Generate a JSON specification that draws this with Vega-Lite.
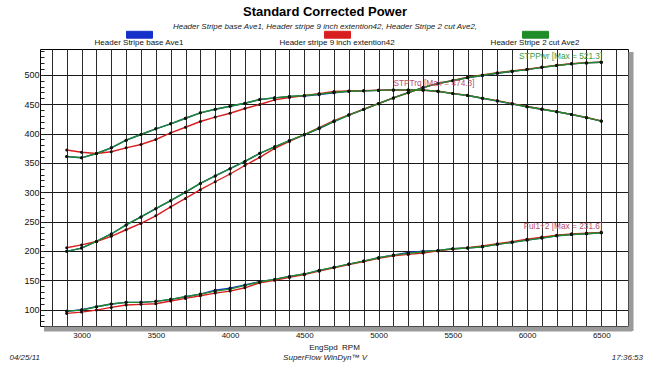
{
  "$schema": "https://vega.github.io/schema/vega-lite/v6.json",
  "width": 588,
  "height": 277,
  "autosize": {"type": "none"},
  "padding": {"left": 40, "top": 49, "right": 22, "bottom": 42},
  "background": "white",
  "config": {
    "font": "Liberation Sans",
    "view": {"stroke": "#000", "strokeWidth": 1}
  },
  "title": {
    "text": "Standard Corrected Power",
    "subtitle": "Header Stripe base Ave1, Header stripe 9 inch extention42, Header Stripe 2 cut Ave2,",
    "fontSize": 13,
    "fontWeight": "bold",
    "color": "#000",
    "subtitleFontSize": 8,
    "subtitleFontStyle": "italic",
    "subtitleColor": "#222",
    "subtitlePadding": 4,
    "anchor": "middle",
    "dx": -9,
    "offset": -2
  },
  "datasets": {
    "runs": [
      {"run": "Header Stripe base Ave1", "rpm": 2900, "trq": 360.8, "pwr": 199.2, "ful": 96.9},
      {"run": "Header Stripe base Ave1", "rpm": 3000, "trq": 358.6, "pwr": 204.8, "ful": 99.8},
      {"run": "Header Stripe base Ave1", "rpm": 3100, "trq": 366.0, "pwr": 216.0, "ful": 104.8},
      {"run": "Header Stripe base Ave1", "rpm": 3200, "trq": 375.6, "pwr": 228.8, "ful": 109.4},
      {"run": "Header Stripe base Ave1", "rpm": 3300, "trq": 388.6, "pwr": 244.2, "ful": 112.3},
      {"run": "Header Stripe base Ave1", "rpm": 3400, "trq": 398.3, "pwr": 257.8, "ful": 112.3},
      {"run": "Header Stripe base Ave1", "rpm": 3500, "trq": 408.0, "pwr": 271.9, "ful": 114.0},
      {"run": "Header Stripe base Ave1", "rpm": 3600, "trq": 416.5, "pwr": 285.5, "ful": 117.4},
      {"run": "Header Stripe base Ave1", "rpm": 3700, "trq": 426.0, "pwr": 300.1, "ful": 121.8},
      {"run": "Header Stripe base Ave1", "rpm": 3800, "trq": 435.2, "pwr": 314.9, "ful": 126.4},
      {"run": "Header Stripe base Ave1", "rpm": 3900, "trq": 441.4, "pwr": 327.8, "ful": 133.0},
      {"run": "Header Stripe base Ave1", "rpm": 4000, "trq": 446.5, "pwr": 340.1, "ful": 136.6},
      {"run": "Header Stripe base Ave1", "rpm": 4100, "trq": 451.6, "pwr": 352.5, "ful": 142.0},
      {"run": "Header Stripe base Ave1", "rpm": 4200, "trq": 458.0, "pwr": 366.3, "ful": 147.4},
      {"run": "Header Stripe base Ave1", "rpm": 4300, "trq": 460.8, "pwr": 377.3, "ful": 151.4},
      {"run": "Header Stripe base Ave1", "rpm": 4400, "trq": 463.0, "pwr": 387.9, "ful": 156.5},
      {"run": "Header Stripe base Ave1", "rpm": 4500, "trq": 464.0, "pwr": 397.6, "ful": 160.5},
      {"run": "Header Stripe base Ave1", "rpm": 4600, "trq": 466.2, "pwr": 408.3, "ful": 166.8},
      {"run": "Header Stripe base Ave1", "rpm": 4700, "trq": 469.4, "pwr": 420.1, "ful": 171.9},
      {"run": "Header Stripe base Ave1", "rpm": 4800, "trq": 472.0, "pwr": 431.4, "ful": 177.5},
      {"run": "Header Stripe base Ave1", "rpm": 4900, "trq": 472.7, "pwr": 441.0, "ful": 182.6},
      {"run": "Header Stripe base Ave1", "rpm": 5000, "trq": 473.5, "pwr": 450.8, "ful": 188.3},
      {"run": "Header Stripe base Ave1", "rpm": 5100, "trq": 474.3, "pwr": 460.6, "ful": 192.8},
      {"run": "Header Stripe base Ave1", "rpm": 5200, "trq": 474.3, "pwr": 469.6, "ful": 197.4},
      {"run": "Header Stripe base Ave1", "rpm": 5300, "trq": 474.0, "pwr": 478.3, "ful": 199.5},
      {"run": "Header Stripe base Ave1", "rpm": 5400, "trq": 472.0, "pwr": 485.3, "ful": 200.8},
      {"run": "Header Stripe base Ave1", "rpm": 5500, "trq": 468.0, "pwr": 490.1, "ful": 203.6},
      {"run": "Header Stripe base Ave1", "rpm": 5600, "trq": 464.7, "pwr": 495.0, "ful": 204.8},
      {"run": "Header Stripe base Ave1", "rpm": 5700, "trq": 460.0, "pwr": 498.7, "ful": 207.0},
      {"run": "Header Stripe base Ave1", "rpm": 5800, "trq": 455.2, "pwr": 502.7, "ful": 211.1},
      {"run": "Header Stripe base Ave1", "rpm": 5900, "trq": 450.2, "pwr": 505.8, "ful": 214.5},
      {"run": "Header Stripe base Ave1", "rpm": 6000, "trq": 445.5, "pwr": 508.9, "ful": 218.4},
      {"run": "Header Stripe base Ave1", "rpm": 6100, "trq": 441.4, "pwr": 512.7, "ful": 221.8},
      {"run": "Header Stripe base Ave1", "rpm": 6200, "trq": 437.0, "pwr": 515.9, "ful": 225.8},
      {"run": "Header Stripe base Ave1", "rpm": 6300, "trq": 432.4, "pwr": 518.7, "ful": 228.0},
      {"run": "Header Stripe base Ave1", "rpm": 6400, "trq": 427.0, "pwr": 520.3, "ful": 229.2},
      {"run": "Header Stripe base Ave1", "rpm": 6500, "trq": 421.2, "pwr": 521.3, "ful": 230.8},

      {"run": "Header stripe 9 inch extention42", "rpm": 2900, "trq": 372.0, "pwr": 205.4, "ful": 93.5},
      {"run": "Header stripe 9 inch extention42", "rpm": 3000, "trq": 368.0, "pwr": 210.2, "ful": 95.7},
      {"run": "Header stripe 9 inch extention42", "rpm": 3100, "trq": 366.0, "pwr": 216.0, "ful": 99.1},
      {"run": "Header stripe 9 inch extention42", "rpm": 3200, "trq": 369.0, "pwr": 224.8, "ful": 103.7},
      {"run": "Header stripe 9 inch extention42", "rpm": 3300, "trq": 375.6, "pwr": 236.0, "ful": 107.7},
      {"run": "Header stripe 9 inch extention42", "rpm": 3400, "trq": 381.3, "pwr": 246.8, "ful": 108.9},
      {"run": "Header stripe 9 inch extention42", "rpm": 3500, "trq": 389.8, "pwr": 259.8, "ful": 109.9},
      {"run": "Header stripe 9 inch extention42", "rpm": 3600, "trq": 401.0, "pwr": 274.9, "ful": 114.5},
      {"run": "Header stripe 9 inch extention42", "rpm": 3700, "trq": 410.7, "pwr": 289.3, "ful": 119.0},
      {"run": "Header stripe 9 inch extention42", "rpm": 3800, "trq": 420.4, "pwr": 304.2, "ful": 123.5},
      {"run": "Header stripe 9 inch extention42", "rpm": 3900, "trq": 428.0, "pwr": 317.8, "ful": 128.1},
      {"run": "Header stripe 9 inch extention42", "rpm": 4000, "trq": 434.6, "pwr": 331.0, "ful": 131.5},
      {"run": "Header stripe 9 inch extention42", "rpm": 4100, "trq": 442.6, "pwr": 345.5, "ful": 137.1},
      {"run": "Header stripe 9 inch extention42", "rpm": 4200, "trq": 449.4, "pwr": 359.4, "ful": 145.7},
      {"run": "Header stripe 9 inch extention42", "rpm": 4300, "trq": 457.4, "pwr": 374.5, "ful": 150.0},
      {"run": "Header stripe 9 inch extention42", "rpm": 4400, "trq": 461.3, "pwr": 386.5, "ful": 154.8},
      {"run": "Header stripe 9 inch extention42", "rpm": 4500, "trq": 464.7, "pwr": 398.2, "ful": 159.5},
      {"run": "Header stripe 9 inch extention42", "rpm": 4600, "trq": 468.0, "pwr": 409.9, "ful": 165.5},
      {"run": "Header stripe 9 inch extention42", "rpm": 4700, "trq": 471.5, "pwr": 421.9, "ful": 171.2},
      {"run": "Header stripe 9 inch extention42", "rpm": 4800, "trq": 472.5, "pwr": 431.8, "ful": 176.8},
      {"run": "Header stripe 9 inch extention42", "rpm": 4900, "trq": 473.0, "pwr": 441.3, "ful": 182.0},
      {"run": "Header stripe 9 inch extention42", "rpm": 5000, "trq": 473.8, "pwr": 451.1, "ful": 187.5},
      {"run": "Header stripe 9 inch extention42", "rpm": 5100, "trq": 474.3, "pwr": 460.6, "ful": 191.5},
      {"run": "Header stripe 9 inch extention42", "rpm": 5200, "trq": 474.2, "pwr": 469.5, "ful": 194.0},
      {"run": "Header stripe 9 inch extention42", "rpm": 5300, "trq": 473.8, "pwr": 478.1, "ful": 196.5},
      {"run": "Header stripe 9 inch extention42", "rpm": 5400, "trq": 472.0, "pwr": 485.3, "ful": 200.0},
      {"run": "Header stripe 9 inch extention42", "rpm": 5500, "trq": 468.3, "pwr": 490.4, "ful": 203.0},
      {"run": "Header stripe 9 inch extention42", "rpm": 5600, "trq": 465.0, "pwr": 495.8, "ful": 205.5},
      {"run": "Header stripe 9 inch extention42", "rpm": 5700, "trq": 460.3, "pwr": 499.6, "ful": 208.3},
      {"run": "Header stripe 9 inch extention42", "rpm": 5800, "trq": 456.0, "pwr": 503.6, "ful": 212.2},
      {"run": "Header stripe 9 inch extention42", "rpm": 5900, "trq": 451.0, "pwr": 506.6, "ful": 215.6},
      {"run": "Header stripe 9 inch extention42", "rpm": 6000, "trq": 446.0, "pwr": 509.5, "ful": 220.0},
      {"run": "Header stripe 9 inch extention42", "rpm": 6100, "trq": 441.8, "pwr": 513.1, "ful": 223.5},
      {"run": "Header stripe 9 inch extention42", "rpm": 6200, "trq": 437.3, "pwr": 516.2, "ful": 226.8},
      {"run": "Header stripe 9 inch extention42", "rpm": 6300, "trq": 432.6, "pwr": 518.9, "ful": 229.0},
      {"run": "Header stripe 9 inch extention42", "rpm": 6400, "trq": 427.3, "pwr": 520.7, "ful": 230.3},
      {"run": "Header stripe 9 inch extention42", "rpm": 6500, "trq": 421.5, "pwr": 521.7, "ful": 231.6},

      {"run": "Header Stripe 2 cut Ave2", "rpm": 2900, "trq": 360.8, "pwr": 199.2, "ful": 97.4},
      {"run": "Header Stripe 2 cut Ave2", "rpm": 3000, "trq": 358.6, "pwr": 204.8, "ful": 99.1},
      {"run": "Header Stripe 2 cut Ave2", "rpm": 3100, "trq": 366.0, "pwr": 216.0, "ful": 104.8},
      {"run": "Header Stripe 2 cut Ave2", "rpm": 3200, "trq": 375.6, "pwr": 228.8, "ful": 109.4},
      {"run": "Header Stripe 2 cut Ave2", "rpm": 3300, "trq": 388.6, "pwr": 244.2, "ful": 112.3},
      {"run": "Header Stripe 2 cut Ave2", "rpm": 3400, "trq": 398.3, "pwr": 257.8, "ful": 112.3},
      {"run": "Header Stripe 2 cut Ave2", "rpm": 3500, "trq": 408.0, "pwr": 271.9, "ful": 114.0},
      {"run": "Header Stripe 2 cut Ave2", "rpm": 3600, "trq": 416.5, "pwr": 285.5, "ful": 117.4},
      {"run": "Header Stripe 2 cut Ave2", "rpm": 3700, "trq": 426.0, "pwr": 300.1, "ful": 121.8},
      {"run": "Header Stripe 2 cut Ave2", "rpm": 3800, "trq": 435.2, "pwr": 314.9, "ful": 126.4},
      {"run": "Header Stripe 2 cut Ave2", "rpm": 3900, "trq": 441.4, "pwr": 327.8, "ful": 131.5},
      {"run": "Header Stripe 2 cut Ave2", "rpm": 4000, "trq": 446.5, "pwr": 340.1, "ful": 134.9},
      {"run": "Header Stripe 2 cut Ave2", "rpm": 4100, "trq": 451.6, "pwr": 352.5, "ful": 141.2},
      {"run": "Header Stripe 2 cut Ave2", "rpm": 4200, "trq": 458.0, "pwr": 366.3, "ful": 147.4},
      {"run": "Header Stripe 2 cut Ave2", "rpm": 4300, "trq": 460.8, "pwr": 377.3, "ful": 151.4},
      {"run": "Header Stripe 2 cut Ave2", "rpm": 4400, "trq": 463.0, "pwr": 387.9, "ful": 156.5},
      {"run": "Header Stripe 2 cut Ave2", "rpm": 4500, "trq": 464.7, "pwr": 398.2, "ful": 160.5},
      {"run": "Header Stripe 2 cut Ave2", "rpm": 4600, "trq": 467.0, "pwr": 409.0, "ful": 166.8},
      {"run": "Header Stripe 2 cut Ave2", "rpm": 4700, "trq": 470.0, "pwr": 420.6, "ful": 171.9},
      {"run": "Header Stripe 2 cut Ave2", "rpm": 4800, "trq": 472.0, "pwr": 431.4, "ful": 177.5},
      {"run": "Header Stripe 2 cut Ave2", "rpm": 4900, "trq": 472.7, "pwr": 441.0, "ful": 182.6},
      {"run": "Header Stripe 2 cut Ave2", "rpm": 5000, "trq": 473.5, "pwr": 450.8, "ful": 188.3},
      {"run": "Header Stripe 2 cut Ave2", "rpm": 5100, "trq": 474.3, "pwr": 460.6, "ful": 192.8},
      {"run": "Header Stripe 2 cut Ave2", "rpm": 5200, "trq": 474.3, "pwr": 469.6, "ful": 195.7},
      {"run": "Header Stripe 2 cut Ave2", "rpm": 5300, "trq": 474.0, "pwr": 478.3, "ful": 198.5},
      {"run": "Header Stripe 2 cut Ave2", "rpm": 5400, "trq": 472.0, "pwr": 485.3, "ful": 200.8},
      {"run": "Header Stripe 2 cut Ave2", "rpm": 5500, "trq": 468.0, "pwr": 490.1, "ful": 203.6},
      {"run": "Header Stripe 2 cut Ave2", "rpm": 5600, "trq": 464.7, "pwr": 495.5, "ful": 204.8},
      {"run": "Header Stripe 2 cut Ave2", "rpm": 5700, "trq": 460.0, "pwr": 499.2, "ful": 207.0},
      {"run": "Header Stripe 2 cut Ave2", "rpm": 5800, "trq": 455.7, "pwr": 503.2, "ful": 211.1},
      {"run": "Header Stripe 2 cut Ave2", "rpm": 5900, "trq": 450.6, "pwr": 506.2, "ful": 214.5},
      {"run": "Header Stripe 2 cut Ave2", "rpm": 6000, "trq": 445.5, "pwr": 508.9, "ful": 218.4},
      {"run": "Header Stripe 2 cut Ave2", "rpm": 6100, "trq": 441.4, "pwr": 512.7, "ful": 221.8},
      {"run": "Header Stripe 2 cut Ave2", "rpm": 6200, "trq": 437.0, "pwr": 515.9, "ful": 225.8},
      {"run": "Header Stripe 2 cut Ave2", "rpm": 6300, "trq": 432.4, "pwr": 518.7, "ful": 228.0},
      {"run": "Header Stripe 2 cut Ave2", "rpm": 6400, "trq": 427.0, "pwr": 520.3, "ful": 229.2},
      {"run": "Header Stripe 2 cut Ave2", "rpm": 6500, "trq": 421.2, "pwr": 521.3, "ful": 230.8}
    ]
  },
  "layer": [
    {
      "data": {"values": [{}]},
      "mark": {"type": "rule", "color": "#9a9a9a", "strokeWidth": 5, "yOffset": 3, "xOffset": 4, "x2Offset": 4},
      "encoding": {
        "x": {"datum": 2720, "type": "quantitative"},
        "x2": {"datum": 6680},
        "y": {"datum": 72, "type": "quantitative"}
      }
    },
    {
      "data": {"values": [{}]},
      "mark": {"type": "rule", "color": "#9a9a9a", "strokeWidth": 5, "xOffset": 3, "yOffset": 5, "y2Offset": 3},
      "encoding": {
        "x": {"datum": 6680, "type": "quantitative"},
        "y": {"datum": 72, "type": "quantitative"},
        "y2": {"datum": 544}
      }
    },
    {
      "data": {"name": "runs"},
      "transform": [{"fold": ["trq", "pwr", "ful"], "as": ["metric", "value"]}],
      "mark": {"type": "line", "strokeWidth": 1.4},
      "encoding": {
        "x": {
          "field": "rpm",
          "type": "quantitative",
          "scale": {"domain": [2720, 6680], "nice": false, "zero": false},
          "axis": {
            "values": [2800, 2900, 3000, 3100, 3200, 3300, 3400, 3500, 3600, 3700, 3800, 3900, 4000, 4100, 4200, 4300, 4400, 4500, 4600, 4700, 4800, 4900, 5000, 5100, 5200, 5300, 5400, 5500, 5600, 5700, 5800, 5900, 6000, 6100, 6200, 6300, 6400, 6500, 6600],
            "tickCount": 200,
            "format": "d",
            "labelExpr": "datum.value % 500 === 0 ? datum.label : ''",
            "labelOverlap": false,
            "labelFlush": false,
            "labelFontSize": 8,
            "labelColor": "#111",
            "labelPadding": 5,
            "ticks": false,
            "domain": false,
            "grid": true,
            "gridColor": "#2a2a2a",
            "gridWidth": 1,
            "title": "EngSpd\u00a0\u00a0RPM",
            "titleFontSize": 8,
            "titleFontWeight": "normal",
            "titleColor": "#111",
            "titlePadding": 4
          }
        },
        "y": {
          "field": "value",
          "type": "quantitative",
          "scale": {"domain": [72, 544], "nice": false, "zero": false},
          "axis": {
            "values": [80, 90, 100, 110, 120, 130, 140, 150, 160, 170, 180, 190, 200, 210, 220, 230, 240, 250, 260, 270, 280, 290, 300, 310, 320, 330, 340, 350, 360, 370, 380, 390, 400, 410, 420, 430, 440, 450, 460, 470, 480, 490, 500, 510, 520, 530, 540],
            "tickCount": 200,
            "labelExpr": "datum.value % 50 === 0 ? datum.label : ''",
            "labelOverlap": false,
            "labelFlush": false,
            "labelFontSize": 9,
            "labelColor": "#111",
            "labelPadding": 5,
            "tickSize": -4,
            "tickColor": "#222",
            "domain": false,
            "grid": true,
            "gridColor": "#1a1a1a",
            "gridOpacity": {"condition": {"test": "datum.value % 50 === 0", "value": 1}, "value": 0},
            "title": null
          }
        },
        "color": {
          "field": "run",
          "type": "nominal",
          "scale": {
            "domain": ["Header Stripe base Ave1", "Header stripe 9 inch extention42", "Header Stripe 2 cut Ave2"],
            "range": ["#1530c8", "#d81e1e", "#1e8c28"]
          },
          "legend": {
            "orient": "none",
            "legendX": 86,
            "legendY": -20,
            "direction": "horizontal",
            "title": null,
            "columnPadding": 82,
            "gridAlign": "all",
            "symbolType": "M-1,-0.88H1V-0.35H-1Z",
            "symbolSize": 676,
            "symbolStrokeWidth": 1,
            "labelAlign": "center",
            "labelOffset": -13,
            "labelFontSize": 8,
            "labelColor": "#111",
            "labelLimit": 0,
            "encode": {
              "symbols": {
                "update": {
                  "fill": {"scale": "color", "field": "value"},
                  "fillOpacity": {"value": 1},
                  "stroke": {"value": "#333"}
                }
              },
              "labels": {
                "update": {
                  "align": {"value": "center"},
                  "x": {"value": 13}
                }
              }
            }
          }
        },
        "detail": {"field": "metric", "type": "nominal"}
      }
    },
    {
      "data": {"name": "runs"},
      "transform": [{"fold": ["trq", "pwr", "ful"], "as": ["metric", "value"]}],
      "mark": {"type": "point", "filled": true, "size": 9, "color": "#111", "opacity": 1},
      "encoding": {
        "x": {"field": "rpm", "type": "quantitative"},
        "y": {"field": "value", "type": "quantitative"}
      }
    },
    {
      "data": {"values": [{}]},
      "mark": {"type": "text", "text": "STPPwr [Max = 521.3]", "align": "right", "baseline": "middle", "fontSize": 8.3, "color": "#3c9c3c", "dx": 1},
      "encoding": {
        "x": {"datum": 6500, "type": "quantitative"},
        "y": {"datum": 530, "type": "quantitative"}
      }
    },
    {
      "data": {"values": [{}]},
      "mark": {"type": "text", "text": "STPTrq [Max = 474.3]", "align": "left", "baseline": "middle", "fontSize": 8.3, "color": "#b8506c"},
      "encoding": {
        "x": {"datum": 5100, "type": "quantitative"},
        "y": {"datum": 484, "type": "quantitative"}
      }
    },
    {
      "data": {"values": [{}]},
      "mark": {"type": "text", "text": "Ful1+2 [Max = 231.6]", "align": "right", "baseline": "middle", "fontSize": 8.3, "color": "#b8506c", "dx": 1},
      "encoding": {
        "x": {"datum": 6500, "type": "quantitative"},
        "y": {"datum": 241, "type": "quantitative"}
      }
    },
    {
      "data": {"values": [{}]},
      "mark": {"type": "text", "text": "04/25/11", "align": "right", "baseline": "middle", "fontSize": 8, "fontStyle": "italic", "color": "#222", "dy": 32, "dx": 0},
      "encoding": {
        "x": {"datum": 2720, "type": "quantitative"},
        "y": {"datum": 72, "type": "quantitative"}
      }
    },
    {
      "data": {"values": [{}]},
      "mark": {"type": "text", "text": "SuperFlow WinDyn\u2122 V", "align": "center", "baseline": "middle", "fontSize": 8, "fontStyle": "italic", "color": "#222", "dy": 32},
      "encoding": {
        "x": {"datum": 4640, "type": "quantitative"},
        "y": {"datum": 72, "type": "quantitative"}
      }
    },
    {
      "data": {"values": [{}]},
      "mark": {"type": "text", "text": "17:36:53", "align": "right", "baseline": "middle", "fontSize": 8, "fontStyle": "italic", "color": "#222", "dy": 32, "dx": 15},
      "encoding": {
        "x": {"datum": 6680, "type": "quantitative"},
        "y": {"datum": 72, "type": "quantitative"}
      }
    }
  ]
}
